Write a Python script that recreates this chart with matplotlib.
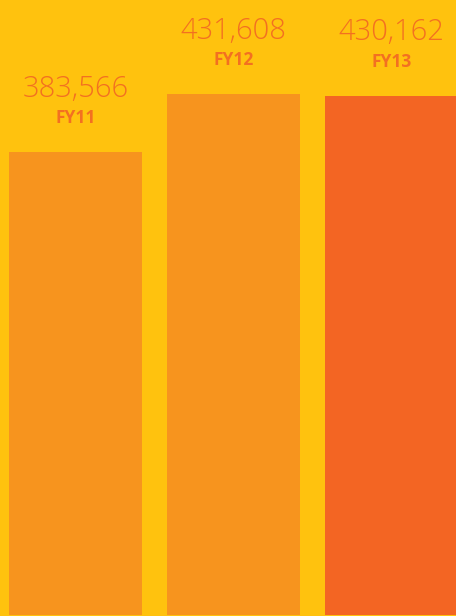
import matplotlib
matplotlib.use("Agg")
import matplotlib.pyplot as plt

years = ["FY11", "FY12", "FY13"]
values = [383566, 431608, 430162]
value_labels = ["383,566", "431,608", "430,162"]
bar_colors = ["#F7941E", "#F7941E", "#F36523"]
bg = "#FFC20E"
text_color = "#F37021"

fig = plt.figure(figsize=(4.561, 6.161), dpi=100, facecolor=bg)
ax = fig.add_axes([0, 1/616, 1, 615/616])
ax.set_facecolor(bg)
x = list(range(len(years)))
ax.bar(x, values, width=133/158, color=bar_colors, linewidth=0)
ax.set_xlim(-0.478, 2.408)
ax.set_ylim(0, 509400)
ax.axis("off")

for xi, v, lab, yr in zip(x, values, value_labels, years):
    ax.annotate(lab, (xi, v), xytext=(0, 63), textcoords="offset pixels",
                ha="center", va="center", fontsize=21, color=text_color,
                family=["Open Sans", "DejaVu Sans"], fontweight="light")
    ax.annotate(yr, (xi, v), xytext=(0, 34), textcoords="offset pixels",
                ha="center", va="center", fontsize=12.5, color=text_color,
                family=["Open Sans", "DejaVu Sans"], fontweight="bold")

fig.savefig("out.png", dpi=100, facecolor=bg)
